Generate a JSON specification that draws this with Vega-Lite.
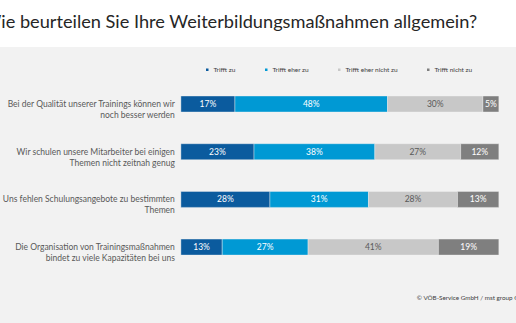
{
  "$schema": "https://vega.github.io/schema/vega-lite/v6.json",
  "width": 516,
  "height": 276,
  "autosize": {"type": "none"},
  "padding": {"top": 47, "left": 0, "right": 0, "bottom": 0},
  "background": "white",
  "title": {
    "text": "Wie beurteilen Sie Ihre Weiterbildungsmaßnahmen allgemein?",
    "anchor": "start",
    "frame": "group",
    "dx": -17.5,
    "offset": 15,
    "font": "Lato",
    "fontSize": 18.2,
    "fontWeight": "normal",
    "color": "#262626"
  },
  "config": {
    "view": {"fill": "#f2f2f2", "stroke": null},
    "font": "Lato"
  },
  "datasets": {
    "bars": [
      {"q": "q1", "resp": "Trifft zu", "k": 1, "v": 0.17},
      {"q": "q1", "resp": "Trifft eher zu", "k": 2, "v": 0.48},
      {"q": "q1", "resp": "Trifft eher nicht zu", "k": 3, "v": 0.30},
      {"q": "q1", "resp": "Trifft nicht zu", "k": 4, "v": 0.05},
      {"q": "q2", "resp": "Trifft zu", "k": 1, "v": 0.23},
      {"q": "q2", "resp": "Trifft eher zu", "k": 2, "v": 0.38},
      {"q": "q2", "resp": "Trifft eher nicht zu", "k": 3, "v": 0.27},
      {"q": "q2", "resp": "Trifft nicht zu", "k": 4, "v": 0.12},
      {"q": "q3", "resp": "Trifft zu", "k": 1, "v": 0.28},
      {"q": "q3", "resp": "Trifft eher zu", "k": 2, "v": 0.31},
      {"q": "q3", "resp": "Trifft eher nicht zu", "k": 3, "v": 0.28},
      {"q": "q3", "resp": "Trifft nicht zu", "k": 4, "v": 0.13},
      {"q": "q4", "resp": "Trifft zu", "k": 1, "v": 0.13},
      {"q": "q4", "resp": "Trifft eher zu", "k": 2, "v": 0.27},
      {"q": "q4", "resp": "Trifft eher nicht zu", "k": 3, "v": 0.41},
      {"q": "q4", "resp": "Trifft nicht zu", "k": 4, "v": 0.19}
    ],
    "labels": [
      {"q": "q1", "label": "Bei der Qualität unserer Trainings können wir\nnoch besser werden"},
      {"q": "q2", "label": "Wir schulen unsere Mitarbeiter bei einigen\nThemen nicht zeitnah genug"},
      {"q": "q3", "label": "Uns fehlen Schulungsangebote zu bestimmten\nThemen"},
      {"q": "q4", "label": "Die Organisation von Trainingsmaßnahmen\nbindet zu viele Kapazitäten bei uns"}
    ],
    "footer": [
      {"q": "f", "label": "© VÖB-Service GmbH / mst group GmbH"}
    ]
  },
  "layer": [
    {
      "data": {"name": "bars"},
      "mark": {"type": "bar", "stroke": "#f2f2f2", "strokeWidth": 0.4},
      "encoding": {
        "y": {"field": "q", "type": "nominal", "axis": null,
              "scale": {"type": "band", "domain": ["q1", "q2", "q3", "q4", "f"], "paddingInner": 0.665, "paddingOuter": 0.726, "align": 0.708}},
        "x": {"field": "v", "type": "quantitative", "stack": "zero", "axis": null,
              "scale": {"domain": [-0.569, 1.054], "nice": false, "zero": false}},
        "order": {"field": "k", "type": "quantitative"},
        "color": {"field": "resp", "type": "nominal",
          "scale": {"domain": ["Trifft zu", "Trifft eher zu", "Trifft eher nicht zu", "Trifft nicht zu"],
                    "range": ["#0b5b9e", "#0099d4", "#c8c8c8", "#7f7f7f"]},
          "legend": {"orient": "none", "legendX": 204, "legendY": 19, "direction": "horizontal",
                     "title": null, "symbolType": "square", "symbolSize": 16, "labelFontSize": 6.5,
                     "labelColor": "#404040", "labelOffset": 3, "columnPadding": 25, "padding": 0,
                     "labelFont": "Lato"}}
      }
    },
    {
      "data": {"name": "bars"},
      "mark": {"type": "text", "fontSize": 8.5, "baseline": "middle", "align": "center"},
      "encoding": {
        "y": {"field": "q", "type": "nominal"},
        "x": {"field": "v", "type": "quantitative", "stack": "zero", "bandPosition": 0.5},
        "order": {"field": "k", "type": "quantitative"},
        "text": {"field": "v", "type": "quantitative", "format": ".0%"},
        "color": {"condition": {"test": "datum.resp === 'Trifft eher nicht zu'", "value": "#595959"}, "value": "white"}
      }
    },
    {
      "data": {"name": "labels"},
      "mark": {"type": "text", "fontSize": 8.5, "align": "right", "baseline": "middle", "lineBreak": "\n", "lineHeight": 11, "color": "#595959"},
      "encoding": {
        "y": {"field": "q", "type": "nominal"},
        "x": {"datum": -0.019, "type": "quantitative"},
        "text": {"field": "label"}
      }
    },
    {
      "data": {"name": "footer"},
      "mark": {"type": "text", "fontSize": 6.3, "align": "left", "baseline": "middle", "color": "#404040", "dy": 3},
      "encoding": {
        "y": {"field": "q", "type": "nominal"},
        "x": {"datum": 0.742, "type": "quantitative"},
        "text": {"field": "label"}
      }
    }
  ]
}
